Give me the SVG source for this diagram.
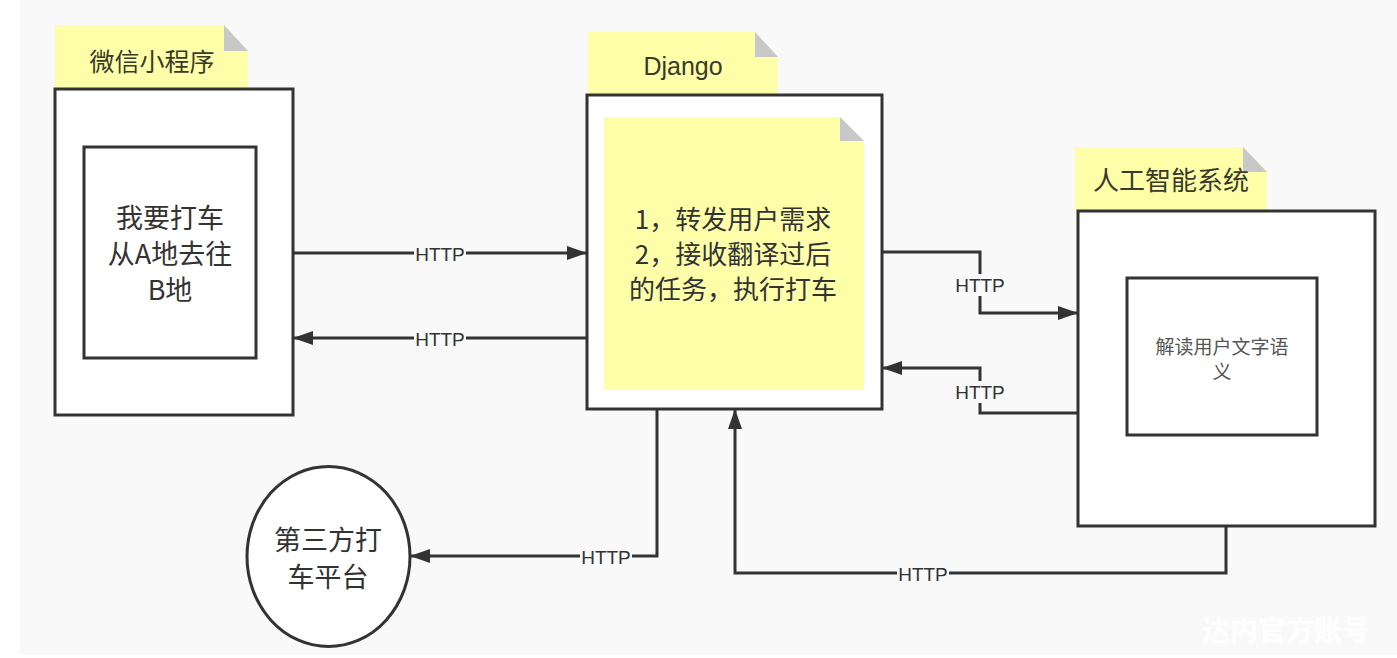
<svg xmlns="http://www.w3.org/2000/svg" width="1397" height="658" viewBox="0 0 1397 658">
<style>
.box{fill:#ffffff;stroke:#333333;stroke-width:3}
.note{fill:#ffffaa}
.fold{fill:#c8c8c8}
.cjk{font-family:"Noto Sans CJK SC","Liberation Sans",sans-serif;fill:#333333;text-anchor:middle}
.title{font-size:25px;fill:#3a3a2a}
.big{font-size:27px}
.small{font-size:19px;fill:#555555}
.edge{fill:none;stroke:#333333;stroke-width:3}
.lbl{font-family:"Liberation Sans",Arial,sans-serif;font-size:19px;fill:#333333;text-anchor:middle;dominant-baseline:central}
.lblbg{fill:#f9f9f9}
</style>
<defs>
<marker id="arr" markerUnits="userSpaceOnUse" markerWidth="22" markerHeight="16" refX="20" refY="8" orient="auto">
<path d="M0,1 L20,8 L0,15 z" fill="#333333"/>
</marker>
</defs>
<rect x="0" y="0" width="1397" height="658" fill="#ffffff"/>
<rect x="20" y="0" width="1377" height="655" fill="#f9f9f9"/>

<g id="miniapp">
<path class="note" d="M55,25 H224 L248,51 V89 H55 Z"/>
<path class="fold" d="M224,25 L248,51 H224 Z"/>
<text class="cjk title" x="152" y="71">微信小程序</text>
<rect class="box" x="55" y="89" width="238" height="326"/>
<rect class="box" x="84" y="147" width="172" height="211"/>
<text class="cjk big" x="170" y="228">我要打车<tspan x="170" dy="36">从A地去往</tspan><tspan x="170" dy="36">B地</tspan></text>
</g>

<g id="django">
<path class="note" d="M588,32 H755 L778,57 V95 H588 Z"/>
<path class="fold" d="M755,32 L778,57 H755 Z"/>
<text class="title" x="683" y="75" style="font-family:'Liberation Sans',Arial,sans-serif;text-anchor:middle;font-size:25px">Django</text>
<rect class="box" x="587" y="95" width="295" height="314"/>
<path class="note" d="M604,117 H840 L864,141 V390 H604 Z"/>
<path class="fold" d="M840,117 L864,141 H840 Z"/>
<text class="cjk" x="733" y="229" style="font-size:26px">1，转发用户需求<tspan x="733" dy="35">2，接收翻译过后</tspan><tspan x="733" dy="35">的任务，执行打车</tspan></text>
</g>

<g id="ai">
<path class="note" d="M1075,147 H1243 L1267,172 V211 H1075 Z"/>
<path class="fold" d="M1243,147 L1267,172 H1243 Z"/>
<text class="cjk title" x="1171" y="190" style="font-size:26px">人工智能系统</text>
<rect class="box" x="1078" y="211" width="297" height="315"/>
<rect class="box" x="1127" y="278" width="190" height="157"/>
<text class="cjk small" x="1222" y="354">解读用户文字语<tspan x="1222" dy="25">义</tspan></text>
</g>

<g id="platform">
<ellipse class="box" cx="328.5" cy="556.5" rx="81.5" ry="90"/>
<text class="cjk big" x="328" y="550">第三方打<tspan x="328" dy="37">车平台</tspan></text>
</g>

<g id="connectors">
<path class="edge" d="M293,253 H587" marker-end="url(#arr)"/>
<path class="edge" d="M587,338 H293" marker-end="url(#arr)"/>
<path class="edge" d="M882,252 H980 V313 H1078" marker-end="url(#arr)"/>
<path class="edge" d="M1078,413 H980 V368 H882" marker-end="url(#arr)"/>
<path class="edge" d="M657,409 V556 H410" marker-end="url(#arr)"/>
<path class="edge" d="M1226,526 V573 H735 V409" marker-end="url(#arr)"/>
<rect class="lblbg" x="414" y="243" width="52" height="20"/>
<text class="lbl" x="440" y="254">HTTP</text>
<rect class="lblbg" x="414" y="328" width="52" height="20"/>
<text class="lbl" x="440" y="339">HTTP</text>
<rect class="lblbg" x="954" y="274" width="52" height="22"/>
<text class="lbl" x="980" y="285">HTTP</text>
<rect class="lblbg" x="954" y="381" width="52" height="22"/>
<text class="lbl" x="980" y="392">HTTP</text>
<rect class="lblbg" x="580" y="546" width="52" height="20"/>
<text class="lbl" x="606" y="557">HTTP</text>
<rect class="lblbg" x="897" y="563" width="52" height="20"/>
<text class="lbl" x="923" y="574">HTTP</text>
</g>

<text x="1286" y="641" style="font-family:'Noto Sans CJK SC',sans-serif;font-size:28px;font-weight:bold;fill:#ffffff;text-anchor:middle">达内官方账号</text>
</svg>
